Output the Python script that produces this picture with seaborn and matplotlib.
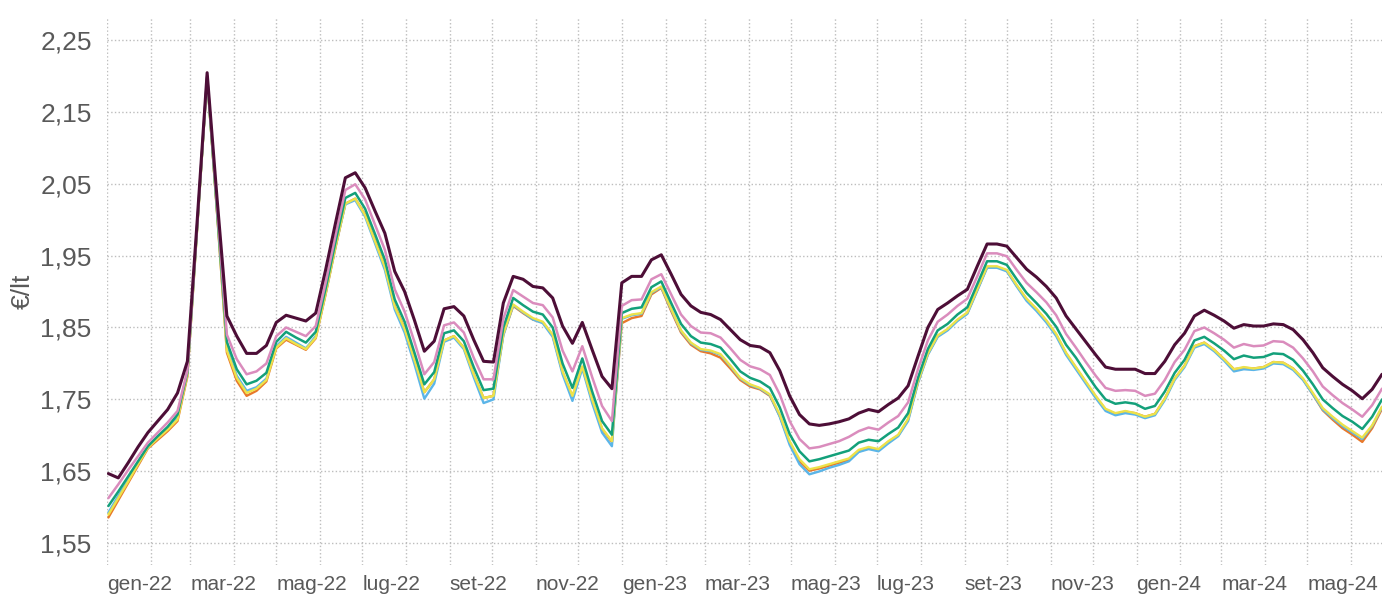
import matplotlib
matplotlib.use('Agg')
import matplotlib.pyplot as plt
import matplotlib.dates as mdates
import pandas as pd
import seaborn as sns

# weekly prices (EUR/l), first week of Jan 2022 -> late Jun 2024
week_start = '2022-01-02'
n_weeks = 130

dark = [
    1.647, 1.641, 1.662, 1.684, 1.704, 1.720, 1.736, 1.759, 1.803, 2.000,
    2.204, 2.030, 1.866, 1.838, 1.814, 1.814, 1.825, 1.857, 1.867, 1.863,
    1.859, 1.870, 1.930, 1.995, 2.058, 2.065, 2.044, 2.012, 1.981, 1.928,
    1.900, 1.860, 1.817, 1.831, 1.876, 1.879, 1.866, 1.833, 1.803, 1.802,
    1.884, 1.921, 1.917, 1.907, 1.905, 1.891, 1.852, 1.828, 1.857, 1.819,
    1.782, 1.765, 1.912, 1.921, 1.921, 1.944, 1.951, 1.924, 1.896, 1.880,
    1.871, 1.868, 1.861, 1.847, 1.833, 1.825, 1.823, 1.815, 1.790, 1.755,
    1.729, 1.716, 1.714, 1.716, 1.719, 1.723, 1.731, 1.736, 1.733, 1.743,
    1.752, 1.769, 1.810, 1.850, 1.875, 1.884, 1.894, 1.903, 1.935, 1.966,
    1.966, 1.963, 1.947, 1.931, 1.920, 1.907, 1.891, 1.866, 1.848, 1.830,
    1.812, 1.795, 1.792, 1.792, 1.792, 1.786, 1.786, 1.803, 1.826, 1.842,
    1.866, 1.874, 1.867, 1.859, 1.849, 1.854, 1.852, 1.852, 1.855, 1.854,
    1.847, 1.833, 1.815, 1.794, 1.782, 1.771, 1.762, 1.751, 1.764, 1.785,
]
pink = [
    1.613, 1.632, 1.652, 1.671, 1.690, 1.704, 1.718, 1.734, 1.790, 1.995,
    2.200, 2.020, 1.840, 1.806, 1.785, 1.789, 1.800, 1.838, 1.850, 1.844,
    1.838, 1.852, 1.912, 1.978, 2.041, 2.049, 2.028, 1.993, 1.958, 1.903,
    1.872, 1.830, 1.785, 1.802, 1.853, 1.857, 1.843, 1.808, 1.778, 1.778,
    1.862, 1.902, 1.893, 1.884, 1.881, 1.864, 1.818, 1.789, 1.824, 1.781,
    1.741, 1.720, 1.880, 1.888, 1.889, 1.917, 1.924, 1.896, 1.868, 1.852,
    1.843, 1.842, 1.836, 1.821, 1.805, 1.796, 1.792, 1.784, 1.757, 1.720,
    1.695, 1.682, 1.684, 1.688, 1.692, 1.698, 1.706, 1.711, 1.708, 1.718,
    1.727, 1.746, 1.792, 1.832, 1.858, 1.868, 1.880, 1.890, 1.921, 1.953,
    1.953, 1.949, 1.930, 1.912, 1.899, 1.885, 1.867, 1.841, 1.822, 1.802,
    1.783, 1.766, 1.762, 1.763, 1.762, 1.755, 1.758, 1.777, 1.802, 1.819,
    1.845, 1.850, 1.842, 1.833, 1.822, 1.827, 1.824, 1.825, 1.831, 1.830,
    1.822, 1.807, 1.789, 1.768, 1.756, 1.745, 1.736, 1.726, 1.742, 1.765,
]
green = [
    1.602, 1.622, 1.643, 1.664, 1.685, 1.699, 1.712, 1.729, 1.788, 1.993,
    2.198, 2.015, 1.830, 1.792, 1.771, 1.776, 1.787, 1.830, 1.844, 1.836,
    1.829, 1.844, 1.904, 1.969, 2.030, 2.037, 2.015, 1.980, 1.944, 1.889,
    1.858, 1.815, 1.771, 1.788, 1.842, 1.846, 1.831, 1.795, 1.763, 1.765,
    1.850, 1.891, 1.881, 1.872, 1.868, 1.850, 1.800, 1.766, 1.807, 1.761,
    1.720, 1.701, 1.870, 1.876, 1.878, 1.906, 1.914, 1.884, 1.855, 1.838,
    1.829, 1.827, 1.822, 1.806, 1.789, 1.780, 1.775, 1.766, 1.739, 1.702,
    1.678, 1.664, 1.667, 1.671, 1.675, 1.679, 1.690, 1.694, 1.692, 1.702,
    1.711, 1.731, 1.780, 1.820, 1.846, 1.855, 1.868, 1.878, 1.910, 1.942,
    1.942, 1.937, 1.917, 1.898, 1.884, 1.869, 1.851, 1.826, 1.808, 1.787,
    1.767, 1.750, 1.744, 1.746, 1.744, 1.737, 1.741, 1.761, 1.787, 1.805,
    1.832, 1.837, 1.828, 1.818, 1.806, 1.811, 1.808, 1.809, 1.814, 1.813,
    1.805, 1.790, 1.771, 1.750, 1.738, 1.727, 1.719, 1.709, 1.726, 1.750,
]
yellow = [
    1.590, 1.613, 1.636, 1.660, 1.683, 1.696, 1.708, 1.722, 1.784, 1.990,
    2.196, 2.010, 1.818, 1.780, 1.759, 1.765, 1.777, 1.822, 1.835, 1.827,
    1.820, 1.836, 1.897, 1.962, 2.022, 2.029, 2.006, 1.970, 1.934, 1.879,
    1.848, 1.805, 1.760, 1.778, 1.832, 1.838, 1.822, 1.785, 1.752, 1.755,
    1.841, 1.882, 1.872, 1.863, 1.858, 1.840, 1.789, 1.755, 1.796, 1.750,
    1.710, 1.692, 1.863, 1.868, 1.870, 1.899, 1.907, 1.876, 1.846, 1.829,
    1.820, 1.818, 1.813, 1.797, 1.780, 1.771, 1.766, 1.757, 1.729, 1.692,
    1.667, 1.653, 1.656, 1.660, 1.664, 1.668, 1.680, 1.684, 1.681, 1.692,
    1.701, 1.723, 1.775, 1.814, 1.839, 1.848, 1.861, 1.871, 1.903, 1.935,
    1.935, 1.930, 1.909, 1.890, 1.876, 1.860, 1.841, 1.815, 1.795, 1.775,
    1.755, 1.737, 1.731, 1.734, 1.731, 1.726, 1.730, 1.751, 1.779, 1.797,
    1.824, 1.829, 1.819, 1.806, 1.792, 1.795, 1.793, 1.795, 1.802, 1.801,
    1.793, 1.779, 1.759, 1.738, 1.726, 1.715, 1.706, 1.697, 1.714, 1.740,
]
blue = [
    1.593, 1.616, 1.638, 1.661, 1.684, 1.697, 1.710, 1.725, 1.786, 1.992,
    2.198, 2.012, 1.822, 1.783, 1.762, 1.767, 1.779, 1.824, 1.837, 1.829,
    1.821, 1.838, 1.898, 1.963, 2.021, 2.027, 2.004, 1.967, 1.930, 1.875,
    1.843, 1.799, 1.751, 1.772, 1.830, 1.836, 1.820, 1.781, 1.745, 1.750,
    1.839, 1.881, 1.871, 1.861, 1.856, 1.837, 1.785, 1.748, 1.793, 1.745,
    1.704, 1.685, 1.862, 1.867, 1.869, 1.898, 1.906, 1.875, 1.845, 1.828,
    1.819, 1.817, 1.812, 1.796, 1.779, 1.770, 1.765, 1.756, 1.726, 1.687,
    1.660, 1.646, 1.650, 1.655, 1.659, 1.664, 1.677, 1.681, 1.678, 1.689,
    1.699, 1.720, 1.773, 1.812, 1.837, 1.846, 1.859, 1.869, 1.901, 1.933,
    1.933, 1.928, 1.907, 1.887, 1.873, 1.857, 1.838, 1.812, 1.792, 1.772,
    1.752, 1.734, 1.728, 1.731, 1.729, 1.724, 1.728, 1.749, 1.777, 1.795,
    1.822, 1.827, 1.817, 1.804, 1.789, 1.792, 1.791, 1.793, 1.800, 1.799,
    1.791, 1.777, 1.757, 1.736, 1.724, 1.713, 1.704, 1.695, 1.713, 1.739,
]
orange = [
    1.586, 1.610, 1.634, 1.658, 1.682, 1.694, 1.706, 1.720, 1.782, 1.990,
    2.197, 2.010, 1.815, 1.776, 1.755, 1.762, 1.775, 1.821, 1.833, 1.826,
    1.819, 1.835, 1.896, 1.961, 2.022, 2.029, 2.007, 1.971, 1.935, 1.880,
    1.849, 1.806, 1.760, 1.778, 1.832, 1.838, 1.822, 1.785, 1.752, 1.755,
    1.840, 1.880, 1.870, 1.861, 1.857, 1.839, 1.788, 1.754, 1.795, 1.749,
    1.709, 1.691, 1.856, 1.863, 1.866, 1.896, 1.905, 1.873, 1.843, 1.826,
    1.817, 1.814, 1.808, 1.793, 1.777, 1.768, 1.764, 1.755, 1.727, 1.690,
    1.664, 1.651, 1.654, 1.658, 1.662, 1.666, 1.678, 1.682, 1.680, 1.691,
    1.700, 1.722, 1.774, 1.813, 1.838, 1.847, 1.860, 1.870, 1.902, 1.934,
    1.934, 1.929, 1.908, 1.889, 1.875, 1.859, 1.840, 1.814, 1.794, 1.774,
    1.754, 1.736, 1.730, 1.733, 1.731, 1.726, 1.730, 1.751, 1.779, 1.797,
    1.824, 1.829, 1.819, 1.806, 1.792, 1.794, 1.793, 1.795, 1.802, 1.801,
    1.793, 1.778, 1.757, 1.735, 1.722, 1.710, 1.701, 1.691, 1.710, 1.737,
]

x_labels = ['gen-22', 'mar-22', 'mag-22', 'lug-22', 'set-22', 'nov-22', 'gen-23',
            'mar-23', 'mag-23', 'lug-23', 'set-23', 'nov-23', 'gen-24', 'mar-24', 'mag-24']
y_ticks = [1.55, 1.65, 1.75, 1.85, 1.95, 2.05, 2.15, 2.25]
y_labels = ['1,55', '1,65', '1,75', '1,85', '1,95', '2,05', '2,15', '2,25']

# drawing order: bottom first, dark line on top
series = [
    ('arancione', orange, '#E8782A', 1.7),
    ('azzurro', blue, '#5BB5E8', 1.7),
    ('giallo', yellow, '#EDE24A', 1.7),
    ('verde', green, '#13A07A', 1.8),
    ('rosa', pink, '#DA8CBD', 1.8),
    ('viola', dark, '#4D0E37', 2.2),
]

dates = pd.date_range(week_start, periods=n_weeks, freq='7D')
rows = []
for name, vals, _, _ in series:
    rows.append(pd.DataFrame({'data': dates, 'prezzo': vals, 'serie': name}))
df = pd.concat(rows, ignore_index=True)

sns.set_theme(style='white')
plt.rcParams['font.family'] = ['Liberation Sans', 'DejaVu Sans']
txt_color = '#595959'
grid_color = '#BDBDBD'

fig = plt.figure(figsize=(13.82, 6.04), dpi=100)
ax = fig.add_axes([107 / 1382, 1 - 565 / 604, 1275 / 1382, 547 / 604])

for name, _, color, lw in series:
    sns.lineplot(data=df[df['serie'] == name], x='data', y='prezzo', color=color,
                 linewidth=lw, ax=ax, legend=False)

ax.set_xlim(pd.Timestamp('2022-01-01'), pd.Timestamp('2024-06-23'))
ax.set_ylim(1.52, 2.28)

# labels every two months, gridlines every month
ax.set_xticks(pd.date_range('2022-01-01', periods=len(x_labels), freq='2MS'))
ax.set_xticklabels(x_labels, ha='left', fontsize=15, color=txt_color)
ax.xaxis.set_minor_locator(mdates.MonthLocator())
ax.set_yticks(y_ticks)
ax.set_yticklabels(y_labels, fontsize=19, color=txt_color)
ax.tick_params(axis='both', which='both', length=0)
ax.tick_params(axis='x', pad=7)
ax.tick_params(axis='y', pad=11)

ax.grid(True, which='both', axis='x', color=grid_color, linestyle=':', linewidth=1)
ax.grid(True, which='major', axis='y', color=grid_color, linestyle=':', linewidth=1)

ax.set_xlabel('')
ax.set_ylabel('€/lt', fontsize=19, color=txt_color, labelpad=4)
for s in ax.spines.values():
    s.set_visible(False)

fig.savefig('out.png', dpi=100)
